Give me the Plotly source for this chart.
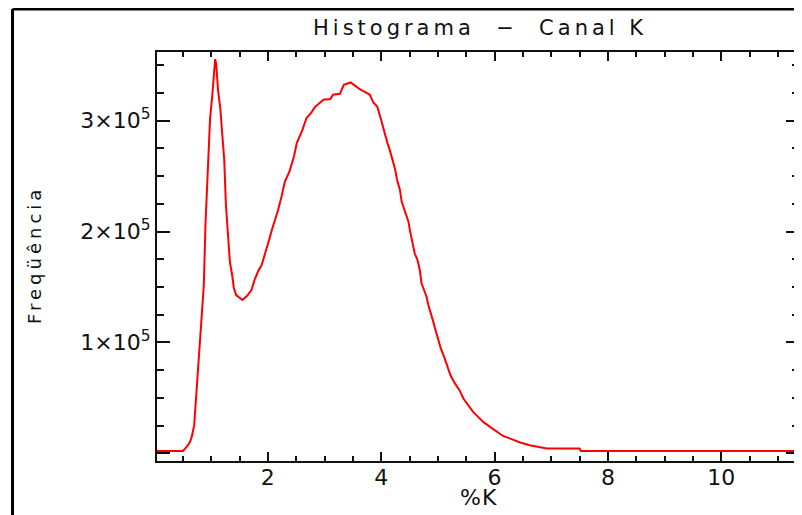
import plotly.graph_objects as go

# %K values (bin positions) and frequencies
pct_k = [0.04, 0.50, 0.54, 0.59, 0.63, 0.66, 0.70, 0.73, 0.77, 0.80,
         0.84, 0.87, 0.90, 0.94, 0.98, 1.02, 1.05, 1.07, 1.09, 1.12,
         1.16, 1.19, 1.23, 1.26, 1.30, 1.33, 1.37, 1.40, 1.44, 1.48,
         1.55, 1.63, 1.71, 1.77, 1.83, 1.89, 1.93, 1.98, 2.03, 2.07,
         2.13, 2.18, 2.24, 2.30, 2.38, 2.42, 2.46, 2.51, 2.55, 2.61,
         2.68, 2.76, 2.83, 2.92, 2.98, 3.10, 3.15, 3.27, 3.34, 3.46,
         3.54, 3.62, 3.71, 3.80, 3.86, 3.93, 3.99, 4.03, 4.07, 4.11,
         4.15, 4.20, 4.24, 4.28, 4.33, 4.36, 4.42, 4.48, 4.51, 4.56,
         4.59, 4.64, 4.68, 4.71, 4.75, 4.80, 4.83, 4.86, 4.91, 4.95,
         5.01, 5.05, 5.11, 5.16, 5.22, 5.30, 5.38, 5.45, 5.53, 5.62,
         5.71, 5.80, 5.92, 6.04, 6.15, 6.30, 6.45, 6.62, 6.80, 6.92,
         7.50, 7.52, 11.37]

frequencia = [2000, 2000, 4100, 7200, 10800, 15400, 25300, 47900, 75000, 100300,
              121900, 151800, 207800, 262900, 301700, 323400, 346000, 355600, 350500, 327900,
              311600, 293600, 264700, 224000, 192400, 172500, 160800, 149100, 142700, 140900,
              138200, 141800, 147200, 157200, 164400, 169800, 176100, 186100, 193900, 201400,
              210500, 219500, 231500, 245100, 254100, 260200, 267700, 279800, 284300, 291800,
              302300, 306900, 312300, 315900, 318900, 319500, 323400, 324300, 332400, 334500,
              331500, 328500, 326100, 323400, 316400, 312800, 302300, 294800, 285700, 279800,
              273700, 264700, 257200, 246600, 237600, 227000, 218000, 208900, 199900, 189400,
              180400, 174300, 165300, 153300, 147200, 141200, 133700, 129200, 120100, 112600,
              102100, 94600, 87000, 79500, 70500, 63000, 56900, 49400, 43400, 37300,
              32800, 28300, 23800, 19200, 15600, 12700, 9700, 7200, 5700, 4200,
              4200, 2000, 2000]

x_range = [0.044, 11.37]
y_range = [-7000, 362000]
x_major_step = 2
x_minor_step = 0.5
y_major_step = 100000
y_minor_step = 25000

title_text = "Histograma  −  Canal K"
x_title = "%K"
y_title = "Freqüência"

# page is offset by the default 8px body margin
OFF = 8
PAGE_W, PAGE_H = 802, 515
W, H = PAGE_W - OFF, PAGE_H - OFF
# plot area in page pixels: x 157..799, y 52..461
P_L, P_R, P_T, P_B = 157, 799, 52, 461
L, T = P_L - OFF, P_T - OFF
R, B = PAGE_W - P_R, PAGE_H - P_B
pw, ph = P_R - P_L, P_B - P_T


def px_x(p):
    return (p - P_L) / pw


def px_y(p):
    return (P_B - p) / ph


FONT = "DejaVu Sans"
INK = "#111111"

fig = go.Figure()
fig.add_trace(go.Scatter(x=pct_k, y=frequencia, mode="lines",
                         line=dict(color="#ff0000", width=2), showlegend=False))

fig.update_layout(
    width=W, height=H,
    margin=dict(l=L, r=R, t=T, b=B, pad=0, autoexpand=False),
    paper_bgcolor="white", plot_bgcolor="white",
    font=dict(family=FONT, color=INK),
    xaxis=dict(
        range=x_range, showgrid=False, zeroline=False, automargin=False,
        showline=True, linecolor=INK, linewidth=2, mirror="ticks",
        ticks="inside", ticklen=9, tickwidth=2, tickcolor=INK,
        tickmode="linear", tick0=0, dtick=x_major_step,
        tickfont=dict(family=FONT, size=22, color=INK),
        ticklabelstandoff=-4,
        minor=dict(tick0=0, dtick=x_minor_step, ticks="inside",
                   ticklen=5, tickwidth=2, tickcolor=INK, showgrid=False),
    ),
    yaxis=dict(
        range=y_range, showgrid=False, zeroline=False, automargin=False,
        showline=True, linecolor=INK, linewidth=2, mirror="ticks",
        ticks="inside", ticklen=13, tickwidth=2, tickcolor=INK,
        tickmode="linear", tick0=0, dtick=y_major_step,
        exponentformat="power", showexponent="all",
        labelalias={"0": ""},
        tickfont=dict(family=FONT, size=22, color=INK),
        ticklabelstandoff=0,
        minor=dict(tick0=0, dtick=y_minor_step, ticks="inside",
                   ticklen=7, tickwidth=2, tickcolor=INK, showgrid=False),
    ),
)

fig.add_annotation(
    text='<span style="letter-spacing:4px">%s</span>' % title_text,
    xref="paper", yref="paper", x=px_x(480), y=px_y(28), xanchor="center", yanchor="middle",
    showarrow=False, font=dict(family=FONT, size=21, color=INK),
)
fig.add_annotation(
    text='<span style="letter-spacing:1px">%s</span>' % x_title,
    xref="paper", yref="paper", x=px_x(478), y=px_y(497), xanchor="center", yanchor="middle",
    showarrow=False, font=dict(family=FONT, size=22, color=INK),
)
fig.add_annotation(
    text='<span style="letter-spacing:4px">%s</span>' % y_title,
    xref="paper", yref="paper", x=px_x(34), y=px_y(255), xanchor="center", yanchor="middle",
    textangle=-90, showarrow=False, font=dict(family=FONT, size=18, color=INK),
)

# outer frame lines (top and left)
fig.add_shape(type="line", xref="paper", yref="paper",
              x0=px_x(12.5), x1=px_x(820), y0=px_y(9), y1=px_y(9),
              line=dict(color="black", width=3))
fig.add_shape(type="line", xref="paper", yref="paper",
              x0=px_x(12.5), x1=px_x(12.5), y0=px_y(9), y1=px_y(540),
              line=dict(color="black", width=3))

fig.write_html("out.html")
